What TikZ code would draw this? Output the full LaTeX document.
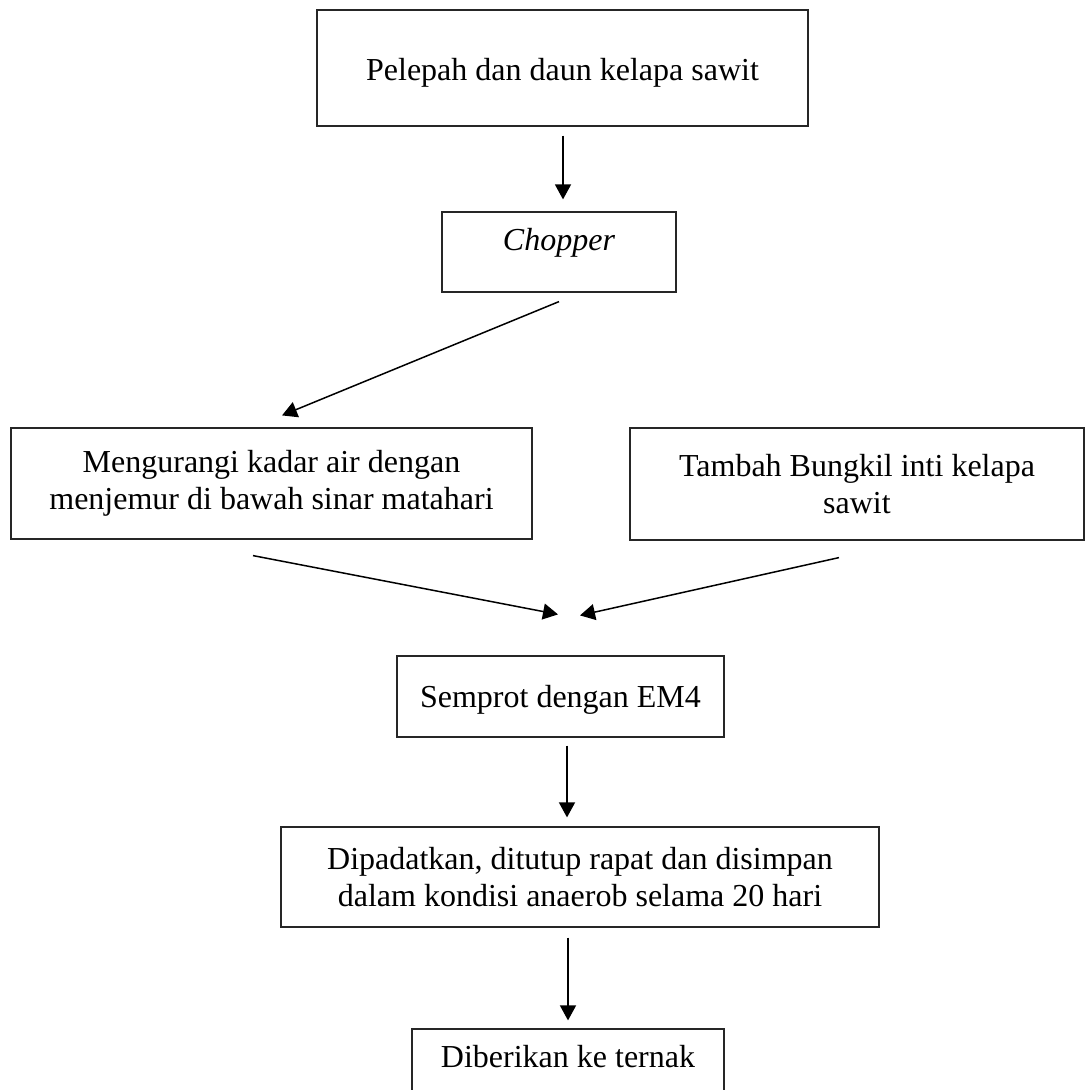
\documentclass[tikz,border=0pt]{standalone}
\usepackage{fontspec}
\setmainfont{Liberation Serif}
\usetikzlibrary{arrows.meta,calc}
\begin{document}
\begin{tikzpicture}[x=1pt,y=-1pt,
  stepbox/.style={draw=black!85,line width=1.2pt,rectangle,inner sep=0pt,align=center,
    font=\fontsize{32}{37}\selectfont},
  flow/.style={line width=1.5pt,-{Triangle[width=16pt,length=15pt]}}]
\useasboundingbox (0,0) rectangle (1085,1090);
\node[stepbox,minimum width=491pt,minimum height=116pt,text height=24pt,text depth=0pt] (b1) at (562.5,68) {Pelepah dan daun kelapa sawit};
\node[stepbox,minimum width=234pt,minimum height=80pt,text height=10pt,text depth=14pt] (chop) at (559,252) {\textit{Chopper}};
\node[stepbox,minimum width=521pt,minimum height=111pt] (b3) at (271.5,483.5) {Mengurangi kadar air dengan\\menjemur di bawah sinar matahari};
\node[stepbox,minimum width=454pt,minimum height=112pt] (b4) at (857,484) {Tambah Bungkil inti kelapa\\sawit};
\node[stepbox,minimum width=327pt,minimum height=81pt,text height=22.5pt,text depth=1.5pt] (b5) at (560.5,696.5) {Semprot dengan EM4};
\node[stepbox,minimum width=598pt,minimum height=100pt] (b6) at (580,877) {Dipadatkan, ditutup rapat dan disimpan\\dalam kondisi anaerob selama 20 hari};
\node[stepbox,minimum width=312pt,minimum height=63pt,text height=18.5pt,text depth=5.5pt] (b7) at (568,1060.5) {Diberikan ke ternak};
\draw[flow] ($(b1.south)+(0.5,9)$) -- ($(chop.north)+(4,-12)$);
\draw[flow] ($(chop.south)+(0,9)$) -- ($(b3.north)+(10.5,-12)$);
\draw[flow] ($(b3.south)+(-18.5,16)$) -- ($(b5.north)+(-2.5,-41)$);
\draw[flow] ($(b4.south)+(-18,17)$) -- ($(b5.north)+(19.5,-40)$);
\draw[flow] ($(b5.south)+(6.5,8)$) -- ($(b6.north)+(-13,-9)$);
\draw[flow] ($(b6.south)+(-12,10)$) -- ($(b7.north)+(0,-8)$);
\end{tikzpicture}
\end{document}
